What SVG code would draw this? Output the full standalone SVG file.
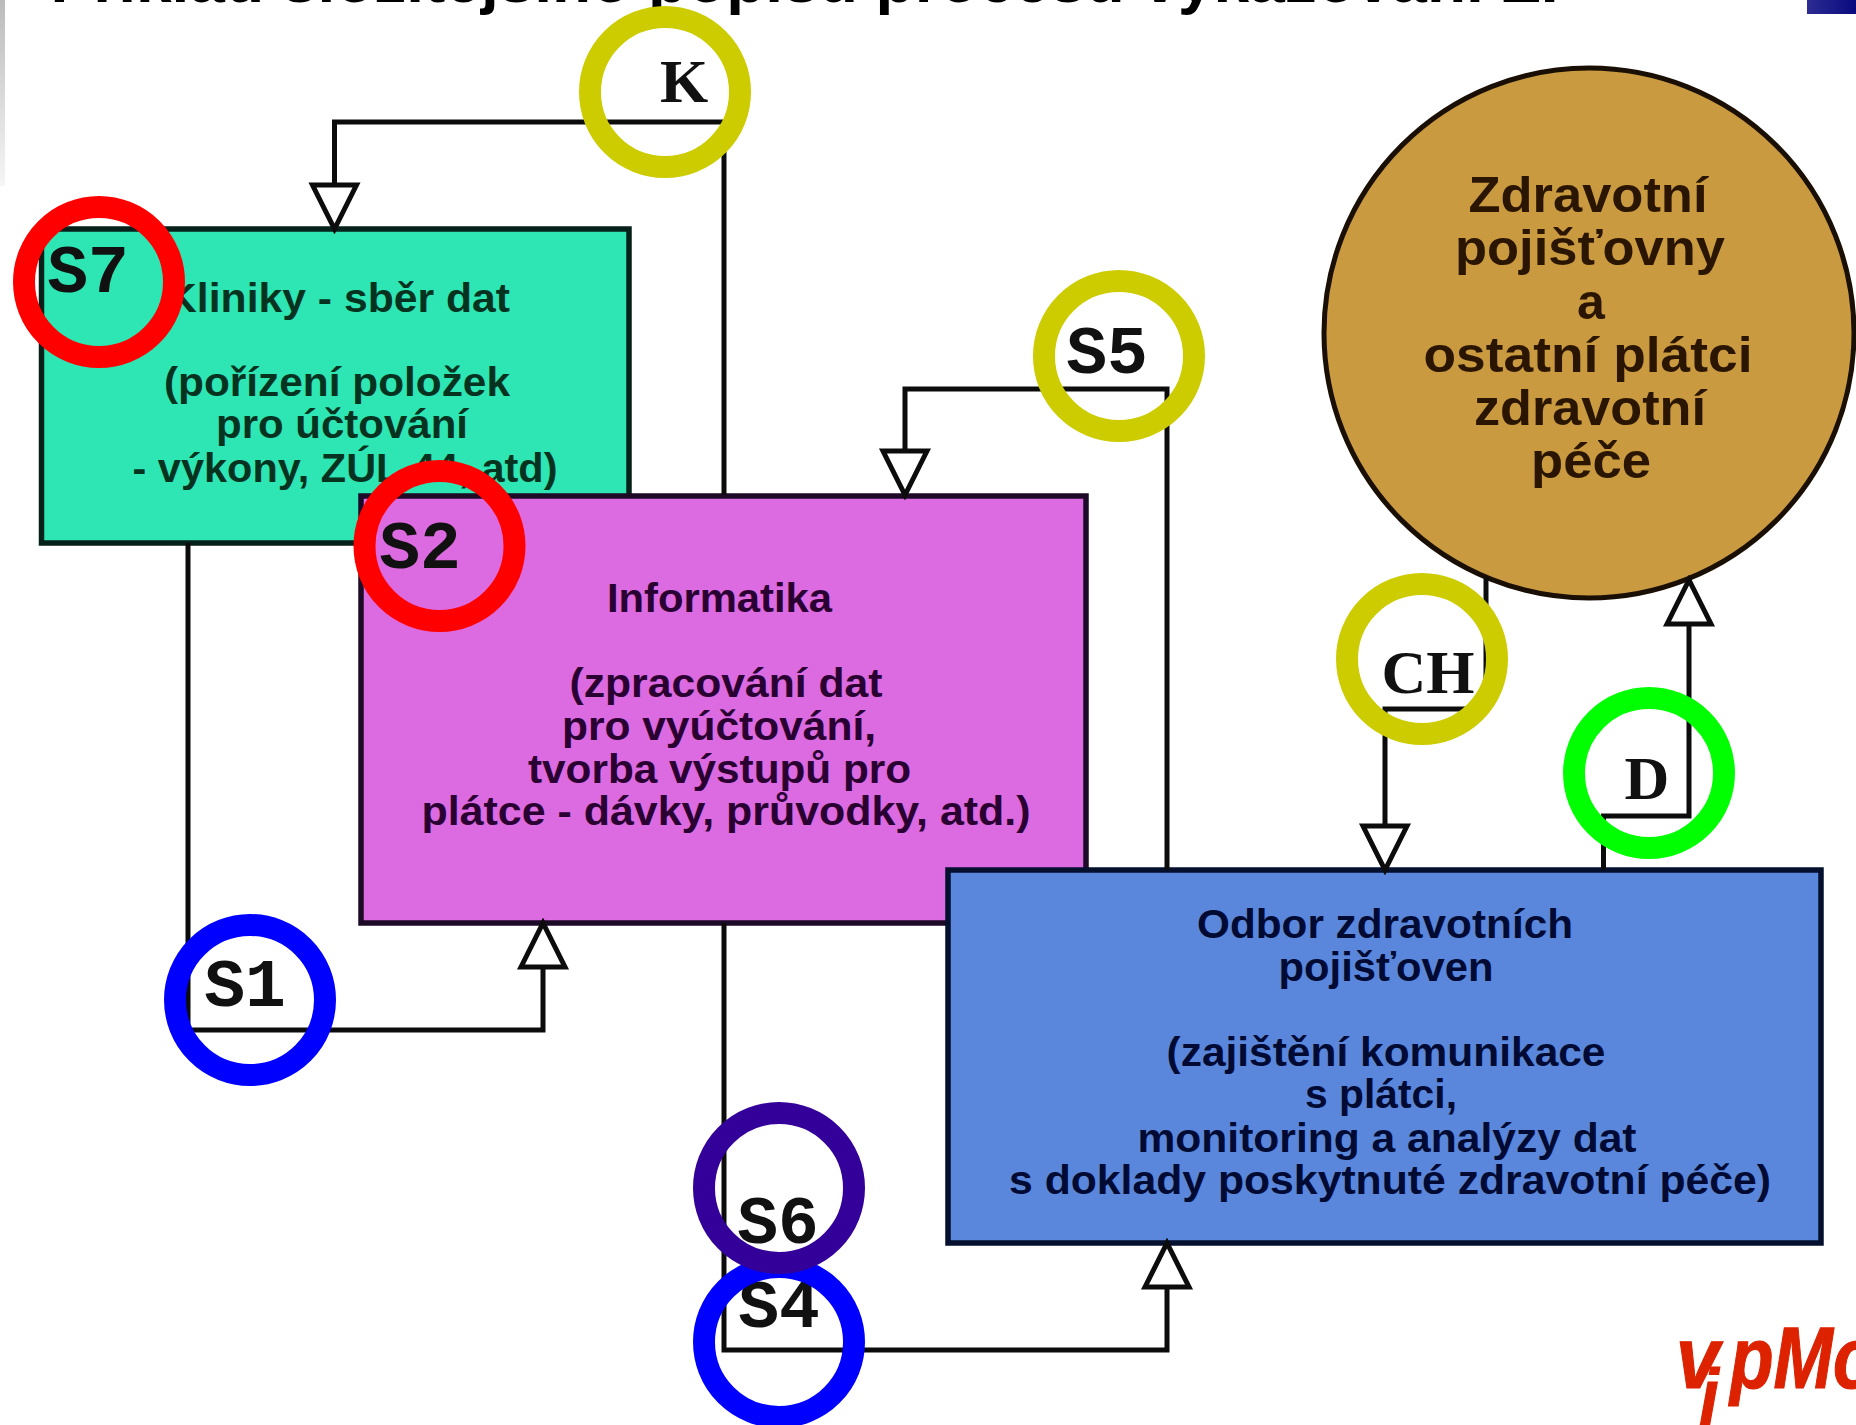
<svg xmlns="http://www.w3.org/2000/svg" width="1856" height="1425" viewBox="0 0 1856 1425">
<style>
.box{stroke-width:5.5}
.t{font-family:"Liberation Sans",Arial,sans-serif;text-anchor:middle;font-weight:700}
.b{font-size:40px}
.c{font-size:50px;fill:#2a1500}
.tg{fill:#06331f}
.tm{fill:#2a0033}
.tb{fill:#000a33}
.lab{font-family:"Liberation Mono","Courier New",monospace;font-weight:700;font-size:68px;text-anchor:middle;fill:#111}
.ser{font-family:"Liberation Serif","Times New Roman",serif;font-size:62px}
.ring{fill:none;stroke-width:22}
.y{stroke:#cccc00}.r{stroke:#ff0000}.bl{stroke:#0000ff}.i{stroke:#330099}.g{stroke:#00ff00}
.con{fill:none;stroke:#0c0c0c;stroke-width:5;marker-end:url(#tri)}
.logo{font-family:"Liberation Sans",Arial,sans-serif;font-weight:700;font-style:italic;fill:#dd2200;stroke:#dd2200;stroke-width:1.2}
</style>
<defs>
<marker id="tri" markerUnits="userSpaceOnUse" markerWidth="54" markerHeight="54" refX="49" refY="27" orient="auto">
<path d="M5,5 L49,27 L5,49 Z" fill="#fff" stroke="#0c0c0c" stroke-width="5" stroke-linejoin="miter"/>
</marker>
<linearGradient id="strip" x1="0" y1="0" x2="0" y2="1"><stop offset="0" stop-color="#bbbbbb"/><stop offset="1" stop-color="#f6f6f6"/></linearGradient>
<linearGradient id="navy" x1="0" y1="0" x2="1" y2="0"><stop offset="0" stop-color="#2c2c92"/><stop offset="1" stop-color="#0a0a80"/></linearGradient>
</defs>
<rect width="1856" height="1425" fill="#fff"/>
<rect x="0" y="0" width="5" height="186" fill="url(#strip)"/>
<rect x="1807" y="0" width="49" height="14" fill="url(#navy)"/>
<text x="817" y="2" font-family="Liberation Sans,Arial,sans-serif" font-weight="700" font-size="64" text-anchor="middle" fill="#000">Příklad složitějšího popisu procesu vykazování ZP</text>

<g id="node-kliniky">
<rect class="box" x="41.5" y="229" width="587.5" height="314" fill="#2de6b4" stroke="#06201a"/>
<g class="t b tg">
<text x="338" y="312" textLength="344" lengthAdjust="spacingAndGlyphs">Kliniky - sběr dat</text>
<text x="337" y="396" textLength="346" lengthAdjust="spacingAndGlyphs">(pořízení položek</text>
<text x="342" y="438" textLength="252" lengthAdjust="spacingAndGlyphs">pro účtování</text>
<text x="345" y="482" textLength="425" lengthAdjust="spacingAndGlyphs">- výkony, ZÚL 44, atd)</text>
</g>
</g>
<g id="node-informatika">
<rect class="box" x="361" y="496" width="725" height="427" fill="#dc6ae0" stroke="#1c0a26"/>
<g class="t b tm">
<text x="719.5" y="612" textLength="225" lengthAdjust="spacingAndGlyphs">Informatika</text>
<text x="726" y="697" textLength="313" lengthAdjust="spacingAndGlyphs">(zpracování dat</text>
<text x="719" y="740" textLength="314" lengthAdjust="spacingAndGlyphs">pro vyúčtování,</text>
<text x="719.5" y="783" textLength="383" lengthAdjust="spacingAndGlyphs">tvorba výstupů pro</text>
<text x="726" y="825" textLength="609" lengthAdjust="spacingAndGlyphs">plátce - dávky, průvodky, atd.)</text>
</g>
</g>
<g id="node-odbor">
<rect class="box" x="948" y="870" width="873" height="373" fill="#5a87dc" stroke="#050f2e"/>
<g class="t b tb">
<text x="1385" y="938" textLength="376" lengthAdjust="spacingAndGlyphs">Odbor zdravotních</text>
<text x="1386" y="981" textLength="215" lengthAdjust="spacingAndGlyphs">pojišťoven</text>
<text x="1386" y="1066" textLength="439" lengthAdjust="spacingAndGlyphs">(zajištění komunikace</text>
<text x="1381" y="1108" textLength="152" lengthAdjust="spacingAndGlyphs">s plátci,</text>
<text x="1387" y="1152" textLength="499" lengthAdjust="spacingAndGlyphs">monitoring a analýzy dat</text>
<text x="1390" y="1194" textLength="762" lengthAdjust="spacingAndGlyphs">s doklady poskytnuté zdravotní péče)</text>
</g>
</g>
<g id="node-pojistovny">
<circle cx="1589" cy="333" r="265" fill="#c99a40" stroke="#1a0f05" stroke-width="5"/>
<g class="t c">
<text x="1588" y="212" textLength="239" lengthAdjust="spacingAndGlyphs">Zdravotní</text>
<text x="1590" y="265" textLength="270" lengthAdjust="spacingAndGlyphs">pojišťovny</text>
<text x="1591" y="319">a</text>
<text x="1588" y="372" textLength="329" lengthAdjust="spacingAndGlyphs">ostatní plátci</text>
<text x="1590" y="425" textLength="232" lengthAdjust="spacingAndGlyphs">zdravotní</text>
<text x="1591" y="478" textLength="120" lengthAdjust="spacingAndGlyphs">péče</text>
</g>
</g>

<g id="connectors">
<path class="con" d="M724,495 V122 H334.5 V229"/>
<path class="con" d="M188,543 V1030 H543 V923"/>
<path class="con" d="M1167,870 V389 H905 V495"/>
<path class="con" d="M724,923 V1350 H1167 V1243"/>
<path class="con" d="M1486,577 V709 H1385 V870"/>
<path class="con" d="M1603.5,870 V816 H1689 V580"/>
</g>

<g id="label-K"><text class="lab ser" x="684" y="102">K</text><circle class="ring y" cx="665" cy="92" r="75"/></g>
<g id="label-S7"><text class="lab" x="88" y="292">S7</text><circle class="ring r" cx="99" cy="282" r="75"/></g>
<g id="label-S2"><text class="lab" x="420" y="568">S2</text><circle class="ring r" cx="439.5" cy="546" r="75"/></g>
<g id="label-S5"><text class="lab" x="1107" y="373">S5</text><circle class="ring y" cx="1119" cy="356" r="75"/></g>
<g id="label-CH"><text class="lab ser" x="1428" y="693">CH</text><circle class="ring y" cx="1422" cy="659" r="75"/></g>
<g id="label-D"><text class="lab ser" x="1647" y="799">D</text><circle class="ring g" cx="1649" cy="773" r="75"/></g>
<g id="label-S1"><text class="lab" x="245" y="1006">S1</text><circle class="ring bl" cx="250" cy="1000" r="75"/></g>
<g id="label-S4"><text class="lab" x="779" y="1327">S4</text><circle class="ring bl" cx="779" cy="1342" r="75"/></g>
<g id="label-S6"><text class="lab" x="778" y="1243">S6</text><circle class="ring i" cx="779" cy="1188" r="75"/></g>

<g id="logo">
<text class="logo" font-size="87" transform="translate(1676,1388) scale(.9,1)">v</text>
<text class="logo" font-size="75" transform="translate(1700,1421) scale(.9,1)">j</text>
<text class="logo" font-size="87" transform="translate(1730,1388) scale(.82,1)">pMo</text>
</g>
</svg>
